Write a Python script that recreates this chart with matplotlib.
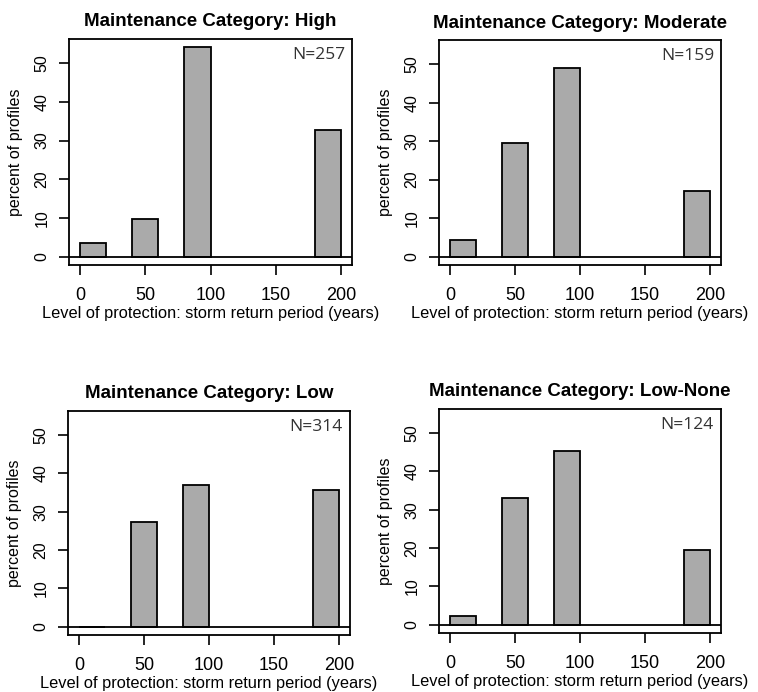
import matplotlib
matplotlib.use("Agg")
import matplotlib.pyplot as plt

plt.rcParams['font.family'] = ['Liberation Sans', 'DejaVu Sans']

# Data (percent of profiles per return-period bin)
bin_centers = [10, 50, 90, 190]
bin_width = 20
categories = ["High", "Moderate", "Low", "Low-None"]
n_profiles = [257, 159, 314, 124]
pct_high = [3.5, 9.7, 54.1, 32.7]
pct_moderate = [4.4, 29.6, 49.1, 17.0]
pct_low = [0.0, 27.4, 36.9, 35.7]
pct_lownone = [2.4, 33.1, 45.2, 19.4]
series = [pct_high, pct_moderate, pct_low, pct_lownone]
x_ticks = [0, 50, 100, 150, 200]
y_ticks = [0, 10, 20, 30, 40, 50]

W, H = 758, 692
fig = plt.figure(figsize=(W / 100, H / 100), dpi=100)

# axes boxes in pixel coords: (left, top, right, bottom)
boxes = [(69, 39, 352, 265), (439, 40, 721, 265),
         (68, 411, 350, 635), (439, 409, 721, 633)]

ymax = 54.1
for (l, t, r, b), cat, n, vals in zip(boxes, categories, n_profiles, series):
    ax = fig.add_axes([l / W, 1 - b / H, (r - l) / W, (b - t) / H])
    ax.bar(bin_centers, vals, width=bin_width, color='#aaaaaa',
           edgecolor='black', linewidth=1.3, zorder=2)
    ax.axhline(0, color='black', linewidth=1.3, zorder=3)
    ax.set_xlim(-8.4, 208.4)
    ax.set_ylim(-0.04 * ymax, ymax * 1.04)
    ax.set_xticks(x_ticks)
    ax.set_xticklabels([str(v) for v in x_ticks], fontsize=13)
    ax.set_yticks(y_ticks)
    ax.set_yticklabels([str(v) for v in y_ticks], fontsize=11.5,
                       rotation=90, va='center')
    ax.tick_params(axis='x', length=7, width=1.2, pad=9)
    ax.tick_params(axis='y', length=7, width=1.2, pad=7)
    for s in ax.spines.values():
        s.set_linewidth(1.3)
    ax.set_title(f"Maintenance Category: {cat}", fontsize=13.5,
                 fontweight='bold', pad=9)
    ax.set_xlabel("Level of protection: storm return period (years)",
                  fontsize=11.8, labelpad=1.5)
    ax.set_ylabel("percent of profiles", fontsize=11.5, labelpad=8)
    ax.text(0.975, 0.965, f"N={n}", transform=ax.transAxes, ha='right',
            va='top', fontsize=12.5, color='#333333',
            family=['Open Sans', 'DejaVu Sans'])

fig.savefig("out.png", dpi=100)
